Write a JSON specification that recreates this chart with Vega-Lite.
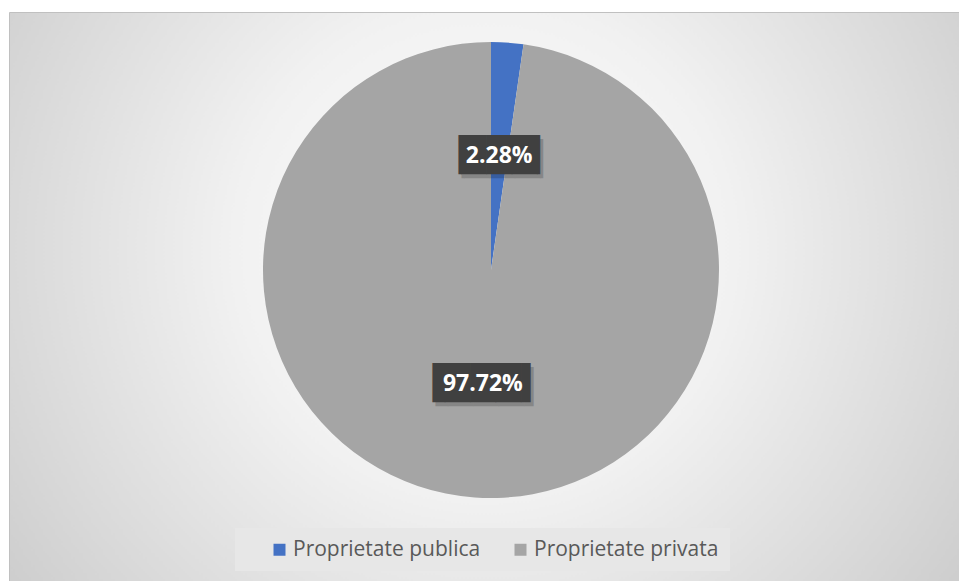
{
  "$schema": "https://vega.github.io/schema/vega-lite/v6.json",
  "width": 959,
  "height": 581,
  "autosize": {"type": "fit", "contains": "padding"},
  "padding": {"left": 9, "top": 12, "right": 0, "bottom": 0},
  "background": "white",
  "view": {
    "fill": {
      "gradient": "radial",
      "x1": 0.5, "y1": 0.45, "r1": 0,
      "x2": 0.5, "y2": 0.45, "r2": 0.75,
      "stops": [
        {"offset": 0, "color": "#ffffff"},
        {"offset": 0.35, "color": "#f1f1f1"},
        {"offset": 1, "color": "#bfbfbf"}
      ]
    },
    "stroke": "#c0c0c0",
    "strokeWidth": 1
  },
  "data": {
    "values": [
      {"category": "Proprietate publica", "share": 0.0228},
      {"category": "Proprietate privata", "share": 0.9772}
    ]
  },
  "encoding": {
    "theta": {"field": "share", "type": "quantitative", "stack": true},
    "order": {"field": "share", "type": "quantitative", "sort": "ascending"}
  },
  "layer": [
    {
      "mark": {"type": "arc", "outerRadius": 228, "x": 482, "y": 258},
      "encoding": {
        "color": {
          "field": "category",
          "type": "nominal",
          "scale": {
            "domain": ["Proprietate publica", "Proprietate privata"],
            "range": ["#4472C4", "#A5A5A5"]
          },
          "legend": {
            "orient": "none",
            "legendX": 226,
            "legendY": 516,
            "direction": "horizontal",
            "title": " ",
            "titleOrient": "left",
            "titleFontSize": 1,
            "titlePadding": 23,
            "symbolType": "square",
            "symbolSize": 144,
            "symbolStrokeWidth": 0,
            "labelFont": "Open Sans",
            "labelFontSize": 21,
            "labelColor": "#595959",
            "labelOffset": 3,
            "labelLimit": 400,
            "columnPadding": 29,
            "padding": 11,
            "fillColor": "#e7e7e7"
          }
        }
      }
    },
    {
      "mark": {"type": "text", "radius": 114, "x": 482, "y": 258, "dx": 3, "dy": 4, "font": "DejaVu Sans", "fontSize": 33, "align": "center", "baseline": "middle", "color": "#000000", "opacity": 0.18},
      "encoding": {
        "text": {"condition": {"test": "datum.share > 0.5", "value": "\u2590\u2588\u2588\u2588\u258D"}, "value": "\u2595\u2588\u2588\u2588\u258F"}
      }
    },
    {
      "mark": {"type": "text", "radius": 114, "x": 482, "y": 258, "font": "DejaVu Sans", "fontSize": 33, "align": "center", "baseline": "middle", "color": "#404040"},
      "encoding": {
        "text": {"condition": {"test": "datum.share > 0.5", "value": "\u2590\u2588\u2588\u2588\u258D"}, "value": "\u2595\u2588\u2588\u2588\u258F"}
      }
    },
    {
      "mark": {"type": "text", "radius": 114, "x": 482, "y": 258, "font": "Open Sans", "fontWeight": "bold", "fontSize": 23, "align": "center", "baseline": "middle", "color": "#ffffff"},
      "encoding": {
        "text": {"field": "share", "type": "quantitative", "format": ".2%"}
      }
    }
  ]
}
